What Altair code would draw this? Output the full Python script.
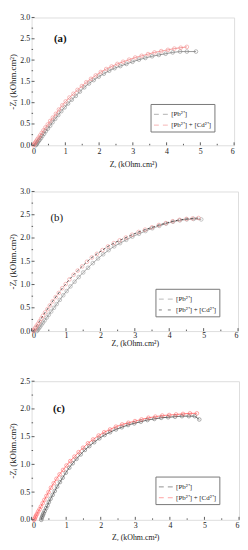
import altair as alt
import pandas as pd

LAB1 = "[Pb²⁺]"
LAB2 = "[Pb²⁺] + [Cd²⁺]"
FONT = "Liberation Serif"

# ---------------- panel (a) ----------------
a_pb_x = [0.12, 0.14, 0.16, 0.18, 0.21, 0.24, 0.28, 0.32, 0.37, 0.42, 0.48, 0.55, 0.62, 0.70, 0.79, 0.88, 0.98, 1.08, 1.19, 1.31,
          1.43, 1.56, 1.70, 1.84, 1.99, 2.14, 2.30, 2.46, 2.63, 2.81, 2.99, 3.18, 3.37, 3.57, 3.77, 3.97, 4.18, 4.40, 4.60, 4.87]
a_pb_y = [0.00, 0.02, 0.04, 0.07, 0.10, 0.13, 0.17, 0.22, 0.27, 0.33, 0.39, 0.46, 0.54, 0.62, 0.71, 0.80, 0.89, 0.98, 1.07, 1.16,
          1.26, 1.36, 1.45, 1.53, 1.61, 1.68, 1.75, 1.81, 1.86, 1.91, 1.96, 2.01, 2.05, 2.09, 2.12, 2.15, 2.18, 2.20, 2.20, 2.20]
a_cd_x = [0.05, 0.07, 0.09, 0.11, 0.14, 0.17, 0.21, 0.25, 0.30, 0.35, 0.41, 0.48, 0.55, 0.63, 0.72, 0.81, 0.91, 1.01, 1.12, 1.24,
          1.36, 1.49, 1.62, 1.76, 1.90, 2.05, 2.21, 2.37, 2.54, 2.71, 2.89, 3.07, 3.26, 3.45, 3.64, 3.84, 4.04, 4.23, 4.42, 4.60]
a_cd_y = [0.00, 0.02, 0.04, 0.07, 0.10, 0.14, 0.18, 0.23, 0.29, 0.35, 0.42, 0.49, 0.57, 0.65, 0.74, 0.84, 0.94, 1.03, 1.12, 1.21,
          1.30, 1.39, 1.48, 1.56, 1.64, 1.72, 1.79, 1.85, 1.91, 1.96, 2.01, 2.06, 2.10, 2.14, 2.18, 2.21, 2.24, 2.27, 2.29, 2.31]

# ---------------- panel (b) ----------------
b_pb_x = [0.15, 0.17, 0.19, 0.22, 0.25, 0.29, 0.33, 0.38, 0.44, 0.50, 0.57, 0.65, 0.73, 0.82, 0.92, 1.02, 1.13, 1.25, 1.37, 1.50,
          1.64, 1.78, 1.93, 2.08, 2.24, 2.40, 2.57, 2.75, 2.93, 3.12, 3.31, 3.51, 3.71, 3.91, 4.11, 4.31, 4.51, 4.71, 4.93]
b_pb_y = [0.00, 0.02, 0.04, 0.07, 0.10, 0.14, 0.18, 0.23, 0.29, 0.35, 0.42, 0.50, 0.58, 0.67, 0.77, 0.86, 0.96, 1.06, 1.16, 1.26,
          1.36, 1.46, 1.56, 1.65, 1.74, 1.82, 1.89, 1.96, 2.03, 2.09, 2.15, 2.21, 2.26, 2.31, 2.35, 2.38, 2.40, 2.41, 2.40]
b_cd_x = [0.05, 0.07, 0.09, 0.12, 0.15, 0.19, 0.23, 0.28, 0.33, 0.39, 0.46, 0.53, 0.61, 0.70, 0.79, 0.89, 0.99, 1.10, 1.22, 1.34,
          1.47, 1.61, 1.75, 1.90, 2.06, 2.22, 2.39, 2.56, 2.74, 2.92, 3.11, 3.30, 3.50, 3.70, 3.90, 4.10, 4.30, 4.50, 4.68, 4.85]
b_cd_y = [0.00, 0.02, 0.05, 0.08, 0.12, 0.16, 0.21, 0.27, 0.33, 0.40, 0.47, 0.55, 0.64, 0.73, 0.82, 0.92, 1.01, 1.11, 1.21, 1.30,
          1.39, 1.49, 1.58, 1.66, 1.74, 1.82, 1.89, 1.95, 2.01, 2.07, 2.13, 2.18, 2.23, 2.28, 2.32, 2.36, 2.39, 2.41, 2.42, 2.43]

# ---------------- panel (c) ----------------
c_pb_x = [0.28, 0.29, 0.31, 0.33, 0.35, 0.38, 0.42, 0.46, 0.50, 0.55, 0.61, 0.67, 0.74, 0.82, 0.90, 0.99, 1.09, 1.19, 1.30, 1.42,
          1.54, 1.67, 1.81, 1.96, 2.11, 2.27, 2.44, 2.61, 2.79, 2.97, 3.16, 3.35, 3.55, 3.75, 3.95, 4.15, 4.35, 4.55, 4.72, 4.85]
c_pb_y = [0.00, 0.03, 0.06, 0.09, 0.12, 0.16, 0.21, 0.26, 0.32, 0.38, 0.45, 0.52, 0.60, 0.68, 0.76, 0.85, 0.94, 1.02, 1.10, 1.18,
          1.26, 1.33, 1.40, 1.47, 1.53, 1.58, 1.63, 1.67, 1.71, 1.74, 1.77, 1.80, 1.82, 1.84, 1.85, 1.86, 1.87, 1.87, 1.87, 1.81]
c_cd_x = [0.07, 0.09, 0.11, 0.13, 0.16, 0.19, 0.23, 0.27, 0.32, 0.37, 0.43, 0.49, 0.56, 0.64, 0.72, 0.81, 0.91, 1.01, 1.12, 1.24,
          1.36, 1.49, 1.63, 1.78, 1.94, 2.10, 2.27, 2.44, 2.62, 2.80, 2.99, 3.18, 3.38, 3.58, 3.78, 3.98, 4.18, 4.38, 4.58, 4.78]
c_cd_y = [0.00, 0.02, 0.05, 0.08, 0.11, 0.15, 0.19, 0.24, 0.30, 0.36, 0.43, 0.50, 0.58, 0.66, 0.74, 0.82, 0.90, 0.98, 1.06, 1.14,
          1.22, 1.30, 1.38, 1.45, 1.52, 1.58, 1.63, 1.68, 1.72, 1.75, 1.78, 1.81, 1.84, 1.86, 1.88, 1.89, 1.90, 1.91, 1.92, 1.92]

x_major = [0, 1, 2, 3, 4, 5, 6]
x_minor = [0.5, 1.5, 2.5, 3.5, 4.5, 5.5]
y_major_30 = [0.0, 0.5, 1.0, 1.5, 2.0, 2.5, 3.0]
y_minor_30 = [0.25, 0.75, 1.25, 1.75, 2.25, 2.75]
y_major_25 = [0.0, 0.5, 1.0, 1.5, 2.0, 2.5]
y_minor_25 = [0.25, 0.75, 1.25, 1.75, 2.25]

LINE_SYM = "M-1,0H-0.3M0.3,0H1"
CIRC_SYM = "M0.3,0A0.3,0.3,0,1,1,-0.3,0A0.3,0.3,0,1,1,0.3,0"


def panel(xs1, ys1, xs2, ys2, ymax, ymaj, ymin, tag, tag_x, tag_y, tag_w,
          W, H, line_cols, mark_cols, dash2, lx, ly, lab_pad, tit_pad):
    n1, n2 = len(xs1), len(xs2)
    df = pd.DataFrame({
        "x": xs1 + xs2,
        "y": ys1 + ys2,
        "s": [LAB1] * n1 + [LAB2] * n2,
        "i": list(range(n1)) + list(range(n2)),
    })
    df["sl"] = df["s"]
    xsc = alt.Scale(domain=[0, 6], nice=False, zero=False)
    ysc = alt.Scale(domain=[0, ymax], nice=False, zero=False)
    xax = alt.Axis(values=x_major, format="d", ticks=False, domain=False, grid=False,
                   labelFont=FONT, labelFontSize=8, labelPadding=lab_pad, labelColor="#222",
                   title="Zᵣ (kOhm.cm²)", titleFont=FONT, titleFontSize=8,
                   titleFontWeight="normal", titlePadding=tit_pad, titleColor="#222")
    yax = alt.Axis(values=ymaj, format=".1f", ticks=False, domain=False, grid=False,
                   labelFont=FONT, labelFontSize=8, labelPadding=2, labelColor="#222",
                   title="-Zᵢ (kOhm.cm²)", titleFont=FONT, titleFontSize=9,
                   titleFontWeight="normal", titlePadding=2, titleColor="#222")
    dom = [LAB1, LAB2]
    base = alt.Chart(df)
    lines = base.mark_line(strokeWidth=0.8).encode(
        x=alt.X("x:Q", scale=xsc, axis=xax),
        y=alt.Y("y:Q", scale=ysc, axis=yax),
        order="i:Q",
        stroke=alt.Stroke("sl:N", scale=alt.Scale(domain=dom, range=line_cols),
                          legend=alt.Legend(orient="none", legendX=lx, legendY=ly, title=None,
                                            symbolType=LINE_SYM, symbolSize=196,
                                            symbolStrokeWidth=0.8, labelFont=FONT,
                                            labelFontSize=7, labelColor="#222", padding=3,
                                            rowPadding=0, labelOffset=3,
                                            strokeColor="#777", fillColor="white")),
        strokeDash=alt.StrokeDash("sl:N", scale=alt.Scale(domain=dom, range=[[1, 0], dash2]),
                                  legend=None),
    )
    pts = base.mark_point(shape="circle", filled=False, size=14, strokeWidth=0.7).encode(
        x=alt.X("x:Q", scale=xsc, axis=xax),
        y=alt.Y("y:Q", scale=ysc, axis=yax),
        color=alt.Color("s:N", scale=alt.Scale(domain=dom, range=mark_cols),
                        legend=alt.Legend(orient="none", legendX=lx, legendY=ly, title=None,
                                          symbolType=CIRC_SYM, symbolSize=196,
                                          symbolStrokeWidth=0.7, symbolFillColor="transparent",
                                          labelFont=FONT, labelFontSize=7, labelColor="#222",
                                          padding=3, rowPadding=0, labelOffset=3)),
    )
    xt_maj = alt.Chart(pd.DataFrame({"v": x_major})).mark_rule(color="#333", strokeWidth=0.8).encode(
        x=alt.X("v:Q", scale=xsc, axis=xax), y=alt.value(H), y2=alt.value(H - 3))
    xt_min = alt.Chart(pd.DataFrame({"v": x_minor})).mark_rule(color="#333", strokeWidth=0.8).encode(
        x=alt.X("v:Q", scale=xsc, axis=xax), y=alt.value(H), y2=alt.value(H - 1.5))
    yt_maj = alt.Chart(pd.DataFrame({"v": ymaj})).mark_rule(color="#333", strokeWidth=0.8).encode(
        y=alt.Y("v:Q", scale=ysc, axis=yax), x=alt.value(0), x2=alt.value(3))
    yt_min = alt.Chart(pd.DataFrame({"v": ymin})).mark_rule(color="#333", strokeWidth=0.8).encode(
        y=alt.Y("v:Q", scale=ysc, axis=yax), x=alt.value(0), x2=alt.value(1.5))
    txt = alt.Chart(pd.DataFrame({"x": [tag_x], "y": [tag_y], "t": [tag]})).mark_text(
        font=FONT, fontSize=11, fontWeight=tag_w, color="#111", align="center", baseline="middle"
    ).encode(x=alt.X("x:Q", scale=xsc, axis=xax), y=alt.Y("y:Q", scale=ysc, axis=yax), text="t:N")
    return alt.layer(lines, pts, xt_maj, xt_min, yt_maj, yt_min, txt).properties(width=W, height=H)


pa = panel(a_pb_x, a_pb_y, a_cd_x, a_cd_y, 3.0, y_major_30, y_minor_30, "(a)", 0.85, 2.5, "bold",
           206, 130, ["#707070", "#f07878"], ["#707070", "#f07878"], [1, 0], 121, 88, 2, 6)
pb = panel(b_pb_x, b_pb_y, b_cd_x, b_cd_y, 3.0, y_major_30, y_minor_30, "(b)", 0.73, 2.43, "normal",
           210, 142, ["#808080", "#222222"], ["#8a8a8a", "#f08080"], [3, 2], 126, 99, 1, 0)
pc = panel(c_pb_x, c_pb_y, c_cd_x, c_cd_y, 2.5, y_major_25, y_minor_25, "(c)", 0.79, 1.99, "bold",
           211, 141, ["#333333", "#ff5050"], ["#555555", "#ff5050"], [1, 0], 126, 97, 2, 4)

chart = alt.vconcat(
    alt.vconcat(pa, pb, spacing=17).resolve_scale(stroke="independent", color="independent",
                                                   strokeDash="independent"),
    pc, spacing=28,
).resolve_scale(stroke="independent", color="independent", strokeDash="independent").properties(
    padding=0
).configure_view(stroke="#444", strokeWidth=0.9).configure(background="white")

chart.save("out.html", embed_options={"renderer": "svg", "actions": False})
